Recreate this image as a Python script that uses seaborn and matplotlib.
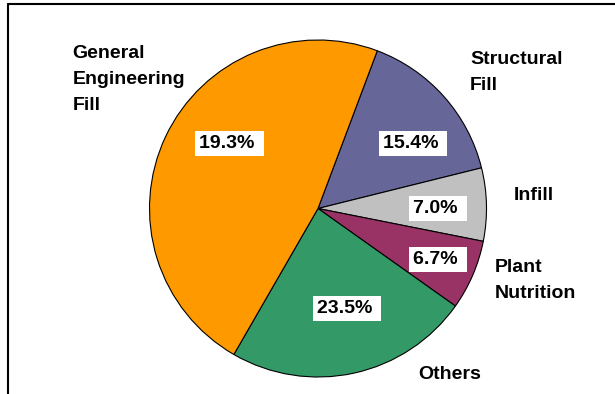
import matplotlib
matplotlib.use("Agg")
import matplotlib.pyplot as plt
import seaborn as sns
from matplotlib.lines import Line2D

# ---- data ----
categories = ["Structural Fill", "Infill", "Plant Nutrition", "Others", "General Engineering Fill"]
values = [15.4, 7.0, 6.7, 23.5, 47.4]
value_labels = ["15.4%", "7.0%", "6.7%", "23.5%", "19.3%"]
category_lines = [["Structural", "Fill"], ["Infill"], ["Plant", "Nutrition"], ["Others"],
                  ["General", "Engineering", "Fill"]]
colors = ["#666699", "#C0C0C0", "#993366", "#339966", "#FF9900"]

# ---- layout (pixels in a 615x394 canvas) ----
W, H = 615, 394
CX, CY, R = 318, 208.5, 168.5
pct_pos = [(382.7, 148), (413.3, 213), (413.3, 264), (316.7, 313), (199, 148)]
cat_pos = [(470, 63.5), (513.3, 200.5), (495, 272), (418.3, 379.3), (72.7, 58)]
LINE_PX = 26

sns.set_theme(style="white")
plt.rcParams["font.family"] = ["Liberation Sans", "DejaVu Sans"]

fig = plt.figure(figsize=(W / 100, H / 100), dpi=100)
fig.patch.set_facecolor("white")
ax = fig.add_axes([0, 0, 1, 1])

ax.pie(values, colors=colors, startangle=69.4, counterclock=False,
       wedgeprops=dict(edgecolor="black", linewidth=0.8))
ax.set_xlim(-CX / R, (W - CX) / R)
ax.set_ylim(-(H - CY) / R, CY / R)
ax.set_aspect("equal")
ax.axis("off")


def to_data(px, py):
    return (px - CX) / R, (CY - py) / R


font = dict(fontsize=14, fontweight="bold", color="black")

for lab, (px, py) in zip(value_labels, pct_pos):
    x, y = to_data(px, py)
    ax.text(x, y, lab + " ", ha="left", va="baseline",
            bbox=dict(boxstyle="square,pad=0.2", facecolor="white", edgecolor="none"),
            **font)

for lines, (px, py) in zip(category_lines, cat_pos):
    for i, line in enumerate(lines):
        x, y = to_data(px, py + i * LINE_PX)
        ax.text(x, y, line, ha="left", va="baseline", **font)

# frame lines (top and left)
fig.add_artist(Line2D([7.7 / W, 1], [1 - 3.7 / H, 1 - 3.7 / H], color="black", linewidth=1.5,
                      transform=fig.transFigure))
fig.add_artist(Line2D([7.7 / W, 7.7 / W], [0, 1 - 3.7 / H], color="black", linewidth=1.5,
                      transform=fig.transFigure))

fig.savefig("out.png", dpi=100)
